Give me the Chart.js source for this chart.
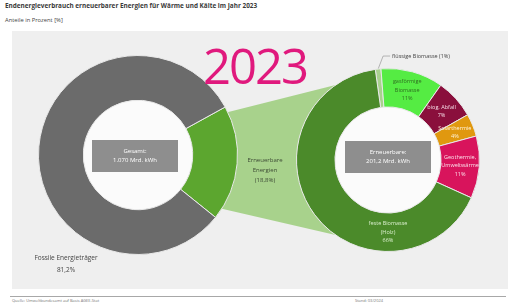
<!DOCTYPE html>
<html><head><meta charset="utf-8">
<script src="https://cdn.jsdelivr.net/npm/chart.js@4.4.0/dist/chart.umd.min.js"></script>
<style>
html,body{margin:0;padding:0;}
body{width:510px;height:303px;position:relative;overflow:hidden;background:#fff;font-family:'Open Sans',sans-serif;color:#333;}
.abs{position:absolute;}
#title{left:5px;top:1px;font-size:6.4px;font-weight:700;color:#3a3a3a;white-space:nowrap;}
#sub{left:5px;top:16px;font-size:5.8px;color:#444;white-space:nowrap;}
#panel{left:12px;top:31px;width:496px;height:258px;background:#efefef;}
#conn{left:0;top:0;z-index:1;}
#cl{left:38px;top:55px;z-index:2;}
#cr{left:296px;top:68px;z-index:2;}
#year{left:203px;top:36px;font-size:49px;line-height:58px;color:#e0197d;letter-spacing:-2px;z-index:3;}
#renLab{left:235px;top:155px;width:60px;text-align:center;font-size:6px;line-height:10px;color:#3d4a35;z-index:3;}
#fosLab{left:20px;top:252px;width:92px;text-align:center;font-size:6.5px;line-height:12px;color:#444;z-index:3;}
#footline{left:10px;top:296px;width:496px;height:1px;background:#a8a8a8;}
#footL{left:12px;top:298px;font-size:4px;color:#777;white-space:nowrap;}
#footR{left:355px;top:298px;font-size:4px;color:#777;white-space:nowrap;}
</style></head>
<body>
<div class="abs" id="panel"></div>
<div class="abs" id="title"></div>
<div class="abs" id="sub"></div>
<canvas class="abs" id="conn" width="510" height="303"></canvas>
<canvas class="abs" id="cl" width="200" height="200"></canvas>
<canvas class="abs" id="cr" width="184" height="184"></canvas>
<div class="abs" id="year"></div>
<div class="abs" id="renLab"></div>
<div class="abs" id="fosLab"></div>
<div class="abs" id="footline"></div>
<div class="abs" id="footL">Quelle: Umweltbundesamt auf Basis AGEE-Stat</div>
<div class="abs" id="footR">Stand: 03/2024</div>
<script>
const titleText = 'Endenergieverbrauch erneuerbarer Energien für Wärme und Kälte im Jahr 2023';
const subtitleText = 'Anteile in Prozent [%]';
const yearLabel = '2023';
const leftCategories = ['Erneuerbare Energien', 'Fossile Energieträger'];
const leftValues = [18.8, 81.2];
const leftColors = ['#5ca62f', '#6b6b6b'];
const rightCategories = ['flüssige Biomasse', 'gasförmige Biomasse', 'biog. Abfall', 'Solarthermie', 'Geothermie, Umweltwärme', 'feste Biomasse (Holz)'];
const rightLabelLines = [['flüssige Biomasse'], ['gasförmige', 'Biomasse'], ['biog. Abfall'], ['Solarthermie'], ['Geothermie,', 'Umweltwärme'], ['feste Biomasse', '(Holz)']];
const rightValues = [1, 11, 7, 4, 11, 66];
const rightColors = ['#a9d18e', '#55ec43', '#8a0f3c', '#e0980f', '#d8145c', '#4b8a2a'];
const rightTextColors = ['#444', '#2f6e22', '#f6dce6', '#fff4dc', '#fbe0ea', '#d9efcc'];
const leftCenterText = ['Gesamt:', '1.070 Mrd. kWh'];
const rightCenterText = ['Erneuerbare:', '201,2 Mrd. kWh'];

const fmt = v => String(v).replace('.', ',') + '%';

document.getElementById('title').textContent = titleText;
document.getElementById('sub').textContent = subtitleText;
document.getElementById('year').textContent = yearLabel;
document.getElementById('renLab').innerHTML = 'Erneuerbare<br>Energien<br>(' + fmt(leftValues[0]) + ')';
document.getElementById('fosLab').innerHTML = leftCategories[1] + '<br>' + fmt(leftValues[1]);

const holePlugin = {
  id: 'hole',
  beforeDatasetsDraw(chart, args, opts) {
    const a = chart.getDatasetMeta(0).data[0];
    const ctx = chart.ctx;
    ctx.save();
    ctx.fillStyle = '#fbfbfb';
    ctx.beginPath(); ctx.arc(a.x, a.y, a.innerRadius, 0, Math.PI * 2); ctx.fill();
    ctx.restore();
  },
  afterDatasetsDraw(chart, args, opts) {
    const a = chart.getDatasetMeta(0).data[0];
    const ctx = chart.ctx;
    const w = 86, h = 32, cx = a.x + (opts.dx || 0), cy = a.y + (opts.dy || 0);
    ctx.save();
    ctx.fillStyle = '#8e8e8e';
    ctx.fillRect(cx - w / 2, cy - h / 2, w, h);
    ctx.fillStyle = '#ffffff';
    ctx.font = '6px "Open Sans"';
    ctx.textAlign = 'center'; ctx.textBaseline = 'middle';
    const lines = opts.lines || [];
    lines.forEach((t, i) => ctx.fillText(t, cx, cy + (i - (lines.length - 1) / 2) * 9));
    ctx.restore();
  }
};

const rightLabelPlugin = {
  id: 'rlabels',
  afterDatasetsDraw(chart) {
    const ctx = chart.ctx;
    const meta = chart.getDatasetMeta(0);
    ctx.save();
    ctx.textAlign = 'center'; ctx.textBaseline = 'middle';
    meta.data.forEach((arc, i) => {
      if (i === 0) return; // drawn outside with a leader line
      const mid = (arc.startAngle + arc.endAngle) / 2;
      const ang = (i === rightValues.length - 1) ? Math.PI / 2 : mid;
      const r = (arc.innerRadius + arc.outerRadius) / 2;
      const x = arc.x + r * Math.cos(ang), y = arc.y + r * Math.sin(ang);
      const lines = rightLabelLines[i].concat([fmt(rightValues[i])]);
      ctx.fillStyle = rightTextColors[i];
      ctx.font = '5.5px "Open Sans"';
      lines.forEach((t, k) => ctx.fillText(t, x, y + (k - (lines.length - 1) / 2) * 8.5));
    });
    ctx.restore();
  }
};

const base = {
  responsive: false, animation: false, events: [],
  layout: { padding: 0 },
  plugins: { legend: { display: false }, tooltip: { enabled: false } }
};

const chartL = new Chart(document.getElementById('cl'), {
  type: 'doughnut',
  data: { labels: leftCategories, datasets: [{ data: leftValues, backgroundColor: leftColors, borderColor: '#e8e8e8', borderWidth: 1, hoverOffset: 0 }] },
  options: Object.assign({}, base, {
    cutout: '55%',
    rotation: 95 - leftValues[0] / 100 * 180,
    plugins: Object.assign({}, base.plugins, { hole: { lines: leftCenterText, dx: -3, dy: 1 } })
  }),
  plugins: [holePlugin]
});

const chartR = new Chart(document.getElementById('cr'), {
  type: 'doughnut',
  data: { labels: rightCategories, datasets: [{ data: rightValues, backgroundColor: rightColors, borderColor: '#e8e8e8', borderWidth: 1, hoverOffset: 0 }] },
  options: Object.assign({}, base, {
    cutout: '58%',
    rotation: -8,
    plugins: Object.assign({}, base.plugins, { hole: { lines: rightCenterText, dx: 0, dy: -3 } })
  }),
  plugins: [holePlugin, rightLabelPlugin]
});

function drawConnector() {
  const c = document.getElementById('conn');
  const ctx = c.getContext('2d');
  const lc = document.getElementById('cl'), rc = document.getElementById('cr');
  const lm = chartL.getDatasetMeta(0).data[0];
  const rm = chartR.getDatasetMeta(0).data[0];
  const lx = lm.x + lc.offsetLeft, ly = lm.y + lc.offsetTop;
  const rx = rm.x + rc.offsetLeft, ry = rm.y + rc.offsetTop, R = rm.outerRadius;
  const rr = (lm.outerRadius + lm.innerRadius) / 2;
  const a = 125 * Math.PI / 180;
  ctx.fillStyle = '#a8d28c';
  ctx.beginPath();
  ctx.moveTo(lx + rr * Math.cos(lm.startAngle), ly + rr * Math.sin(lm.startAngle));
  ctx.lineTo(rx + R * Math.cos(-a), ry + R * Math.sin(-a));
  ctx.arc(rx, ry, R, -a, a, true);
  ctx.lineTo(lx + rr * Math.cos(lm.endAngle), ly + rr * Math.sin(lm.endAngle));
  ctx.closePath();
  ctx.fill();

  // leader line + label for the smallest slice
  const mid = (rm.startAngle + rm.endAngle) / 2;
  const px = rx + R * Math.cos(mid), py = ry + R * Math.sin(mid);
  ctx.strokeStyle = '#9a9a9a'; ctx.lineWidth = 0.7;
  ctx.beginPath(); ctx.moveTo(px, py); ctx.lineTo(px + 5, py - 13); ctx.lineTo(px + 12, py - 13); ctx.stroke();
  ctx.fillStyle = rightTextColors[0];
  ctx.font = '5.5px "Open Sans"';
  ctx.textAlign = 'left'; ctx.textBaseline = 'middle';
  ctx.fillText(rightLabelLines[0].join(' ') + ' (' + fmt(rightValues[0]) + ')', px + 14, py - 13);
}
drawConnector();
</script>
</body></html>
